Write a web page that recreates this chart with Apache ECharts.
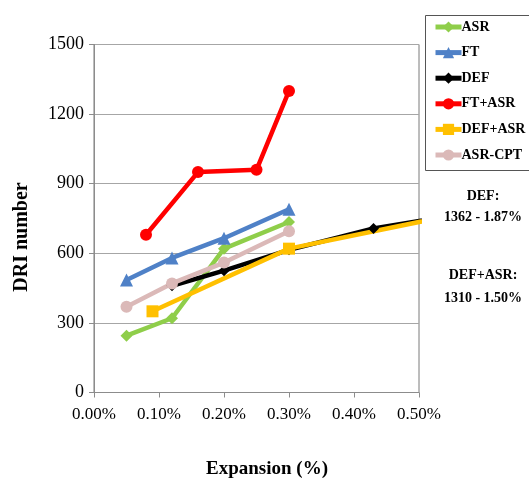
<!DOCTYPE html>
<html>
<head>
<meta charset="utf-8">
<script src="https://cdn.jsdelivr.net/npm/echarts@6/dist/echarts.min.js"></script>
<style>
  html, body { margin: 0; padding: 0; background: #fff; }
  #main { width: 529px; height: 484px; }
</style>
</head>
<body>
<div id="main"></div>
<script>
// 数据 (x 单位为 %)
var seriesNames = ['ASR', 'FT', 'DEF', 'FT+ASR', 'DEF+ASR', 'ASR-CPT'];
var xTicks = [0, 0.1, 0.2, 0.3, 0.4, 0.5];
var yTicks = [0, 300, 600, 900, 1200, 1500];

var asrX = [0.05, 0.12, 0.20, 0.30];
var asrY = [245, 320, 620, 735];
var ftX = [0.05, 0.12, 0.20, 0.30];
var ftY = [485, 580, 665, 790];
var defX = [0.12, 0.20, 0.30, 0.43, 1.87];
var defY = [460, 525, 615, 707, 1362];
var ftAsrX = [0.08, 0.16, 0.25, 0.30];
var ftAsrY = [680, 950, 960, 1300];
var defAsrX = [0.09, 0.30, 1.50];
var defAsrY = [350, 620, 1310];
var cptX = [0.05, 0.12, 0.20, 0.30];
var cptY = [370, 470, 560, 695];

function pairs(xs, ys) {
    return xs.map(function (x, i) { return [x, ys[i]]; });
}

var font = '"Liberation Serif", "Times New Roman", serif';

function line(name, xs, ys, color, symbol, size) {
    return {
        name: name,
        type: 'line',
        data: pairs(xs, ys),
        symbol: symbol,
        symbolSize: size,
        clip: true,
        lineStyle: { color: color, width: 4.5 },
        itemStyle: { color: color },
        emphasis: { disabled: true }
    };
}

var myChart = echarts.init(document.getElementById('main'));

var option = {
    animation: false,
    grid: {
        left: 94, right: 110, top: 44.5, bottom: 91.5,
        show: true, borderColor: '#7a7a7a', borderWidth: 1
    },
    legend: {
        orient: 'vertical',
        left: 428, top: 15,
        itemWidth: 26, itemHeight: 14, itemGap: 11.6,
        data: seriesNames,
        lineStyle: { width: 5 },
        textStyle: { fontFamily: font, fontWeight: 'bold', fontSize: 14, color: '#000', padding: [0, 0, 0, -5] }
    },
    xAxis: {
        type: 'value',
        min: 0, max: 0.5, interval: 0.1,
        splitLine: { show: false },
        axisLine: { lineStyle: { color: '#8c8c8c' } },
        axisTick: { show: true, length: 5, lineStyle: { color: '#8c8c8c' } },
        axisLabel: {
            margin: 14, color: '#000', fontFamily: font, fontSize: 17,
            formatter: function (v) { return v.toFixed(2) + '%'; }
        }
    },
    yAxis: {
        type: 'value',
        min: 0, max: 1500, interval: 300,
        splitLine: { lineStyle: { color: '#a6a6a6' } },
        axisLine: { show: true, lineStyle: { color: '#8c8c8c' } },
        axisTick: { show: true, length: 5, lineStyle: { color: '#8c8c8c' } },
        axisLabel: {
            margin: 10, color: '#000', fontFamily: font, fontSize: 18,
            formatter: function (v) { return String(v); }
        }
    },
    graphic: [
        { type: 'rect', left: 423, top: 13, shape: { width: 120, height: 155 },
          style: { fill: 'none', stroke: '#555', lineWidth: 1 }, z: 100 },
        { type: 'text', x: 22, y: 237, rotation: Math.PI / 2,
          style: { text: 'DRI number', font: 'bold 20px ' + font, fill: '#000', align: 'center', verticalAlign: 'middle' } },
        { type: 'text', x: 267, y: 469,
          style: { text: 'Expansion (%)', font: 'bold 19px ' + font, fill: '#000', align: 'center', verticalAlign: 'middle' } },
        { type: 'text', x: 483, y: 196,
          style: { text: 'DEF:', font: 'bold 14px ' + font, fill: '#000', align: 'center', verticalAlign: 'middle' } },
        { type: 'text', x: 483, y: 217,
          style: { text: '1362 - 1.87%', font: 'bold 14px ' + font, fill: '#000', align: 'center', verticalAlign: 'middle' } },
        { type: 'text', x: 483, y: 275,
          style: { text: 'DEF+ASR:', font: 'bold 14px ' + font, fill: '#000', align: 'center', verticalAlign: 'middle' } },
        { type: 'text', x: 483, y: 298,
          style: { text: '1310 - 1.50%', font: 'bold 14px ' + font, fill: '#000', align: 'center', verticalAlign: 'middle' } }
    ],
    series: [
        line('ASR', asrX, asrY, '#8fce4a', 'diamond', 12),
        line('FT', ftX, ftY, '#4f81c7', 'triangle', 13),
        line('DEF', defX, defY, '#000000', 'diamond', 11),
        line('FT+ASR', ftAsrX, ftAsrY, '#ff0000', 'circle', 12),
        line('DEF+ASR', defAsrX, defAsrY, '#ffc000', 'rect', 12),
        line('ASR-CPT', cptX, cptY, '#dbb9b8', 'circle', 12)
    ]
};

myChart.setOption(option);
</script>
</body>
</html>
